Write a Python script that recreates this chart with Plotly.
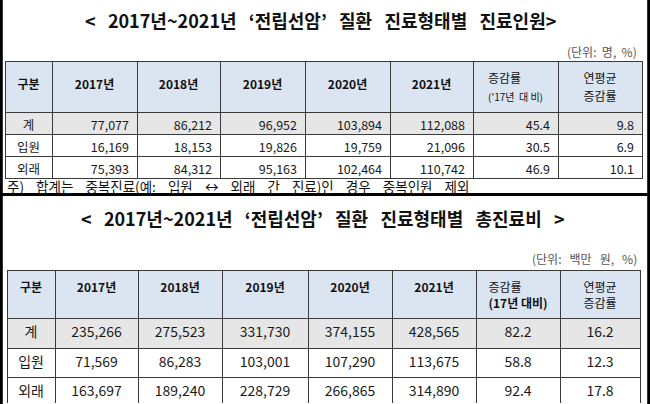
import plotly.graph_objects as go

W, H = 650, 404
FONT = "Noto Sans CJK KR"

# ---- data ----
groups = ["계", "입원", "외래"]
years = ["2017년", "2018년", "2019년", "2020년", "2021년"]

patients_2017 = [77077, 16169, 75393]
patients_2018 = [86212, 18153, 84312]
patients_2019 = [96952, 19826, 95163]
patients_2020 = [103894, 19759, 102464]
patients_2021 = [112088, 21096, 110742]
patients_change = [45.4, 30.5, 46.9]
patients_cagr = [9.8, 6.9, 10.1]

cost_2017 = [235266, 71569, 163697]
cost_2018 = [275523, 86283, 189240]
cost_2019 = [331730, 103001, 228729]
cost_2020 = [374155, 107290, 266865]
cost_2021 = [428565, 113675, 314890]
cost_change = [82.2, 58.8, 92.4]
cost_cagr = [16.2, 12.3, 17.8]

title_top = "< 2017년~2021년 ‘전립선암’ 질환 진료형태별 진료인원>"
title_bottom = "< 2017년~2021년 ‘전립선암’ 질환 진료형태별 총진료비 >"
unit_top = "(단위: 명, %)"
unit_bottom = "(단위: 백만 원, %)"
note_top = "주) 합계는 중복진료(예: 입원 ↔ 외래 간 진료)인 경우 중복인원 제외"


def py(px):
    return 1 - px / H


def px_x(px):
    return px / W


def wide(s, n=1):
    # the source uses wide word gaps; keep them with non-breaking spaces
    return s.replace(" ", "\u00a0" * n + " ")


def span(t, size, bold=False):
    t = f"<b>{t}</b>" if bold else t
    return f"<span style='font-size:{size}px'>{t}</span>"


HEAD_FILL = "#dbe5f1"
TOTAL_FILL = "#e6e6e6"
LINE = "#3a3a3a"


def make_table(cols, header, x0, x1, y0, y1, head_h, row_h, widths, align,
               head_size, cell_size):
    fills = [[TOTAL_FILL, "white", "white"] for _ in cols]
    return go.Table(
        domain=dict(x=[px_x(x0), px_x(x1)], y=[py(y1), py(y0)]),
        columnwidth=widths,
        header=dict(
            values=header,
            height=head_h,
            fill_color=HEAD_FILL,
            line=dict(color=LINE, width=1),
            align="center",
            font=dict(family=FONT, size=head_size, color="#111111"),
        ),
        cells=dict(
            values=cols,
            height=row_h,
            fill_color=fills,
            line=dict(color=LINE, width=1),
            align=align,
            format=[""] + [","] * 5 + [".1f", ".1f"],
            font=dict(family=FONT, size=cell_size, color="#1a1a1a"),
        ),
    )


# top header: tiny base font so <br> is a small vertical step; a blank
# first line pushes the one-line labels down to the middle of the cell
pad_line = span("\u00a0", 5) + "<br><br>"
header_top = ([pad_line + span("구분", 12, True)]
              + [pad_line + span(y, 12, True) for y in years]
              + [span("증감률", 12) + "<br><br><br>" + span("('17년  대 비)", 10),
                 span("연평균", 12) + "<br><br><br>" + span("증감률", 12)])
header_top_size = [5.5] * 6 + [4.7, 4.7]
header_bottom = (["<b>구분</b>"] + [f"<b>{y}</b>" for y in years]
                 + ["증감률<br><b>(17년 대비)</b>", "연평균<br>증감률"])

top = make_table(
    [groups, patients_2017, patients_2018, patients_2019, patients_2020,
     patients_2021, patients_change, patients_cagr],
    header_top, 5, 642, 61, 193, 44, 22,
    [47, 85, 83, 85, 85, 83, 85, 84],
    ["center"] + ["right"] * 7, header_top_size, 12.5,
)
bottom = make_table(
    [groups, cost_2017, cost_2018, cost_2019, cost_2020, cost_2021,
     cost_change, cost_cagr],
    header_bottom, 7, 640, 270, 404, 37, 29.5,
    [48, 83, 84, 86, 84, 84, 84, 80],
    ["center"] * 8, 12, 14,
)

fig = go.Figure([top, bottom])

ann = [
    dict(text=f"<b>{wide(title_top, 2)}</b>", x=px_x(320), y=py(20), font_size=18),
    dict(text=f"<b>{wide(title_bottom, 2)}</b>", x=px_x(323), y=py(218),
         font_size=18),
    dict(text=wide(unit_top), x=px_x(639), y=py(51), xanchor="right", font_size=12,
         font_color="#555555"),
    dict(text=wide(unit_bottom, 2), x=px_x(639), y=py(258), xanchor="right",
         font_size=12, font_color="#555555"),
    dict(text=wide(note_top, 3), x=px_x(5), y=py(185.5), xanchor="left",
         font_size=13.5),
]
for a in ann:
    a.setdefault("xanchor", "center")
    fig.add_annotation(xref="paper", yref="paper", yanchor="middle",
                       showarrow=False, font_family=FONT,
                       font_color=a.pop("font_color", "#111111"), **a)

# frame: side bars + separator between the two tables
frame = dict(color="black", width=3)
fig.add_shape(type="line", xref="paper", yref="paper", x0=0.002, x1=0.002,
              y0=0, y1=1, line=frame)
fig.add_shape(type="line", xref="paper", yref="paper", x0=0.998, x1=0.998,
              y0=0, y1=1, line=frame)
fig.add_shape(type="line", xref="paper", yref="paper", x0=0, x1=1,
              y0=py(194.5), y1=py(194.5), line=frame)

fig.update_layout(
    width=W, height=H,
    margin=dict(l=0, r=0, t=0, b=0),
    paper_bgcolor="white",
    font=dict(family=FONT),
)

fig.write_html("out.html", config={"displayModeBar": False},
               post_script="document.body.style.margin = '0';")
